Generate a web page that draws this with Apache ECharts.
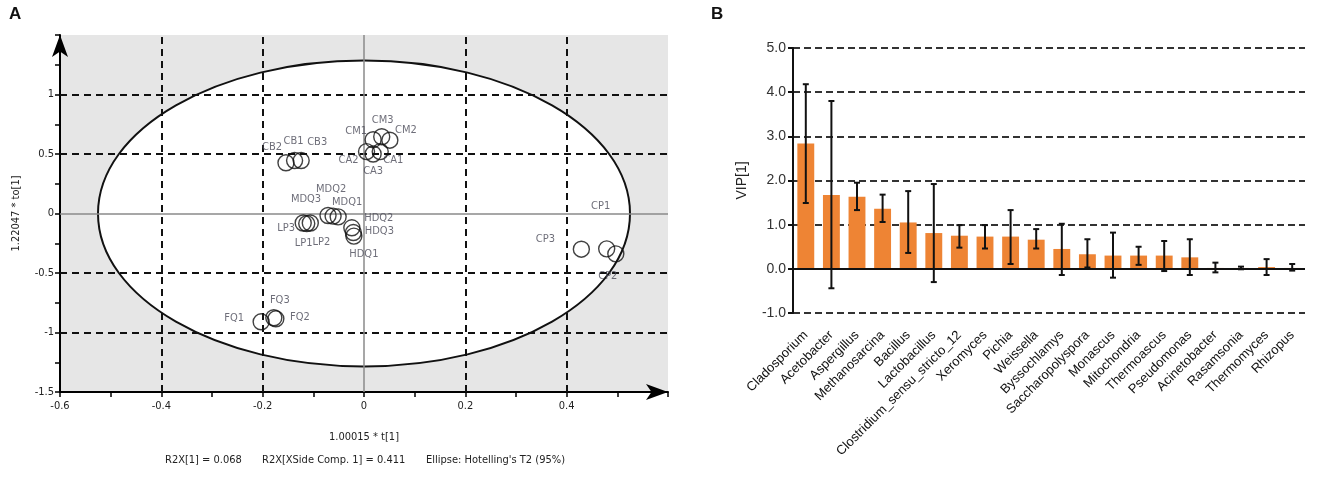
<!DOCTYPE html>
<html>
<head>
<meta charset="utf-8">
<script src="https://cdn.jsdelivr.net/npm/echarts@6/dist/echarts.min.js"></script>
<style>
  html, body { margin: 0; padding: 0; background: #fff; }
  #chart { width: 1325px; height: 478px; }
</style>
</head>
<body>
<div id="chart"></div>
<script>
// panel A: OPLS-DA scores
const sampleNames = ["CB2", "CB1", "CB3", "CM1", "CM3", "CM2", "CA2", "CA3", "CA1",
    "MDQ3", "MDQ2", "MDQ1", "LP3", "LP1", "LP2", "HDQ2", "HDQ3", "HDQ1",
    "CP3", "CP1", "CP2", "FQ1", "FQ3", "FQ2"];
const scoreT = [-0.154, -0.137, -0.124, 0.018, 0.035, 0.051, 0.005, 0.018, 0.032,
    -0.071, -0.061, -0.051, -0.120, -0.113, -0.106, -0.024, -0.021, -0.020,
    0.429, 0.479, 0.497, -0.203, -0.178, -0.174];
const scoreTo = [0.426, 0.445, 0.445, 0.620, 0.645, 0.616, 0.520, 0.500, 0.520,
    -0.017, -0.022, -0.028, -0.080, -0.085, -0.080, -0.120, -0.160, -0.190,
    -0.300, -0.297, -0.339, -0.910, -0.876, -0.885];
const ellipseT2 = [0, 0, 0.525, 1.285]; // cx, cy, semi-axis t, semi-axis to
const gridT = [-0.4, -0.2, 0.2, 0.4];
const gridTo = [1, 0.5, -0.5, -1];

// panel B: VIP
const genera = ["Cladosporium", "Acetobacter", "Aspergillus", "Methanosarcina", "Bacillus",
    "Lactobacillus", "Clostridium_sensu_stricto_12", "Xeromyces", "Pichia", "Weissella",
    "Byssochlamys", "Saccharopolyspora", "Monascus", "Mitochondria", "Thermoascus",
    "Pseudomonas", "Acinetobacter", "Rasamsonia", "Thermomyces", "Rhizopus"];
const vip = [2.84, 1.67, 1.63, 1.36, 1.05, 0.81, 0.75, 0.73, 0.73, 0.66,
    0.45, 0.33, 0.30, 0.30, 0.30, 0.26, 0.02, 0.02, 0.04, 0.02];
const vipHigh = [4.18, 3.80, 1.95, 1.68, 1.76, 1.92, 0.99, 0.99, 1.33, 0.90,
    1.02, 0.67, 0.82, 0.50, 0.63, 0.67, 0.14, 0.05, 0.22, 0.11];
const vipLow = [1.49, -0.44, 1.33, 1.06, 0.36, -0.30, 0.48, 0.46, 0.11, 0.46,
    -0.14, 0.03, -0.20, 0.09, -0.05, -0.14, -0.08, -0.01, -0.14, -0.04];

// label nudges (px) for the score labels
const labelNudge = {
    CB2: [-14, -16], CB1: [-1, -19], CB3: [16, -18],
    CM1: [-17, -9], CM3: [1, -17], CM2: [16, -10],
    CA2: [-18, 9], CA3: [0, 17], CA1: [13, 9],
    MDQ3: [-22, -16], MDQ2: [-2, -27], MDQ1: [9, -15],
    LP3: [-17, 5], LP1: [-3, 20], LP2: [11, 19],
    HDQ2: [27, -10], HDQ3: [26, -1], HDQ1: [10, 18],
    CP3: [-36, -10], CP1: [-6, -43], CP2: [-8, 22],
    FQ1: [-27, -4], FQ3: [6, -18], FQ2: [24, -2]
};

const narrow = "'Liberation Sans Narrow', 'DejaVu Sans Condensed', 'Roboto Condensed', sans-serif";
const sans = "'Liberation Sans', Arial, sans-serif";

const chart = echarts.init(document.getElementById("chart"), null, { renderer: "canvas" });

const scores = sampleNames.map((n, i) => ({
    name: n,
    value: [scoreT[i], scoreTo[i]],
    label: { offset: labelNudge[n] || [0, 0] }
}));

const dashed = { color: "#111", width: 2, type: [7, 5] };
const zeroA = { color: "#8a8a8a", width: 1.5, type: "solid" };
const markA = []
    .concat(gridT.map(v => ({ xAxis: v, lineStyle: dashed })))
    .concat(gridTo.map(v => ({ yAxis: v, lineStyle: dashed })))
    .concat([{ xAxis: 0, lineStyle: zeroA }, { yAxis: 0, lineStyle: zeroA }]);

const errData = genera.map((g, i) => [i, vipLow[i], vipHigh[i]]);

const isStep = (v, s) => Math.abs(Math.round(v / s) * s - v) < 1e-6;

chart.setOption({
    animation: false,
    textStyle: { fontFamily: sans },
    graphic: [
        { type: "text", left: 9, top: 6, style: { text: "A", font: "bold 17px " + sans, fill: "#111" } },
        { type: "text", left: 711, top: 6, style: { text: "B", font: "bold 17px " + sans, fill: "#111" } },
        { type: "text", left: 165, top: 455, style: { text: "R2X[1] = 0.068", font: "11px " + narrow, fill: "#222" } },
        { type: "text", left: 262, top: 455, style: { text: "R2X[XSide Comp. 1] = 0.411", font: "11px " + narrow, fill: "#222" } },
        { type: "text", left: 426, top: 455, style: { text: "Ellipse: Hotelling's T2 (95%)", font: "11px " + narrow, fill: "#222" } }
    ],
    grid: [
        { left: 60, top: 35, width: 608, height: 357, show: true, backgroundColor: "#e6e6e6", borderWidth: 0 },
        { left: 793, top: 48, right: 20, height: 265 }
    ],
    xAxis: [
        {
            gridIndex: 0, type: "value", min: -0.6, max: 0.6, interval: 0.1,
            axisLine: { onZero: false, lineStyle: { color: "#000", width: 2 }, symbol: ["none", "arrow"], symbolSize: [12, 22] },
            axisTick: { show: true, length: 5, lineStyle: { color: "#000", width: 1.5 } },
            axisLabel: {
                color: "#222", fontSize: 11, fontFamily: narrow, margin: 9,
                formatter: v => (isStep(v, 0.2) && v < 0.55) ? String(Math.round(v * 10) / 10) : ""
            },
            splitLine: { show: false },
            name: "1.00015 * t[1]", nameLocation: "middle", nameGap: 40,
            nameTextStyle: { color: "#222", fontSize: 11, fontFamily: narrow }
        },
        {
            gridIndex: 1, type: "category", data: genera,
            axisLine: { show: false, onZero: false },
            axisTick: { show: false },
            axisLabel: { interval: 0, rotate: 45, color: "#111", fontSize: 13, margin: 20, fontFamily: sans },
            splitLine: { show: false }
        }
    ],
    yAxis: [
        {
            gridIndex: 0, type: "value", min: -1.5, max: 1.5, interval: 0.25,
            axisLine: { onZero: false, lineStyle: { color: "#000", width: 2 }, symbol: ["none", "arrow"], symbolSize: [12, 22] },
            axisTick: { show: true, length: 5, lineStyle: { color: "#000", width: 1.5 } },
            axisLabel: {
                color: "#222", fontSize: 11, fontFamily: narrow, margin: 6,
                formatter: v => (isStep(v, 0.5) && v < 1.4) ? String(Math.round(v * 10) / 10) : ""
            },
            splitLine: { show: false },
            name: "1.22047 * to[1]", nameLocation: "middle", nameGap: 38,
            nameTextStyle: { color: "#222", fontSize: 11, fontFamily: narrow }
        },
        {
            gridIndex: 1, type: "value", min: -1, max: 5, interval: 1,
            axisLine: { show: true, onZero: false, lineStyle: { color: "#111", width: 2 } },
            axisTick: { show: true, length: 5, lineStyle: { color: "#111", width: 2 } },
            axisLabel: { color: "#333", fontSize: 14, margin: 7, formatter: v => v.toFixed(1) },
            splitLine: { show: true, lineStyle: { color: "#333", width: 2, type: [7, 4] } },
            name: "VIP[1]", nameLocation: "middle", nameGap: 44,
            nameTextStyle: { color: "#222", fontSize: 14 }
        }
    ],
    series: [
        {
            type: "custom", xAxisIndex: 0, yAxisIndex: 0, z: 1, silent: true,
            data: [ellipseT2],
            encode: { x: 0, y: 1 },
            renderItem: (params, api) => {
                const c = api.coord([api.value(0), api.value(1)]);
                const rx = api.size([api.value(2), 0])[0];
                const ry = api.size([0, api.value(3)])[1];
                return {
                    type: "ellipse",
                    shape: { cx: c[0], cy: c[1], rx: rx, ry: ry },
                    style: { fill: "#fff", stroke: "#111", lineWidth: 2 }
                };
            }
        },
        {
            type: "scatter", xAxisIndex: 0, yAxisIndex: 0, z: 3,
            symbol: "circle", symbolSize: 16,
            itemStyle: { color: "rgba(0,0,0,0)", borderColor: "#111", borderWidth: 1.4 },
            label: { show: true, position: "inside", formatter: "{b}", color: "#4a4a58", fontSize: 11, fontFamily: narrow },
            data: scores,
            markLine: { silent: true, symbol: "none", label: { show: false }, data: markA, z: 2 }
        },
        {
            type: "bar", xAxisIndex: 1, yAxisIndex: 1, data: vip, barWidth: "66%",
            itemStyle: { color: "#EE8434" },
            markLine: {
                silent: true, symbol: "none", label: { show: false },
                data: [{ yAxis: 0, lineStyle: { color: "#111", width: 2, type: "solid" } }]
            }
        },
        {
            type: "custom", xAxisIndex: 1, yAxisIndex: 1, z: 6, silent: true,
            data: errData,
            encode: { x: 0, y: [1, 2] },
            renderItem: (params, api) => {
                const lo = api.coord([api.value(0), api.value(1)]);
                const hi = api.coord([api.value(0), api.value(2)]);
                const w = 3;
                const st = { stroke: "#111", lineWidth: 2 };
                return {
                    type: "group",
                    children: [
                        { type: "line", shape: { x1: lo[0], y1: lo[1], x2: hi[0], y2: hi[1] }, style: st },
                        { type: "line", shape: { x1: hi[0] - w, y1: hi[1], x2: hi[0] + w, y2: hi[1] }, style: st },
                        { type: "line", shape: { x1: lo[0] - w, y1: lo[1], x2: lo[0] + w, y2: lo[1] }, style: st }
                    ]
                };
            }
        }
    ]
});
</script>
</body>
</html>
